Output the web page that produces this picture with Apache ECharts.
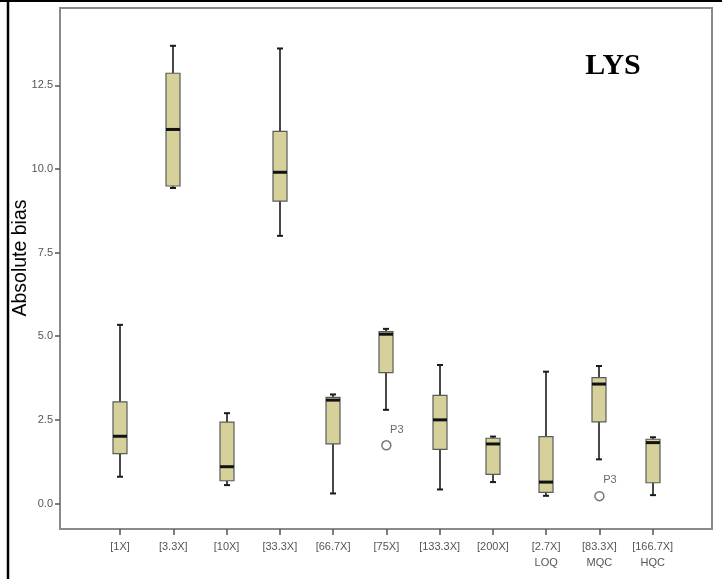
<!DOCTYPE html>
<html>
<head>
<meta charset="utf-8">
<script src="https://cdn.jsdelivr.net/npm/echarts@6/dist/echarts.min.js"></script>
<style>
html,body{margin:0;padding:0;background:#fff;}
#chart{width:726px;height:579px;}
</style>
</head>
<body>
<div id="chart"></div>
<script>
var categories = ['[1X]','[3.3X]','[10X]','[33.3X]','[66.7X]','[75X]','[133.3X]','[200X]','[2.7X]\nLOQ','[83.3X]\nMQC','[166.7X]\nHQC'];
var minV   = [0.80, 9.43, 0.55, 8.00, 0.30, 2.80, 0.42, 0.64, 0.23, 1.32, 0.25];
var q1V    = [1.49, 9.49, 0.68, 9.04, 1.78, 3.91, 1.62, 0.87, 0.33, 2.44, 0.62];
var medV   = [2.01, 11.18, 1.10, 9.90, 3.09, 5.06, 2.50, 1.78, 0.64, 3.57, 1.82];
var q3V    = [3.04, 12.86, 2.43, 11.12, 3.17, 5.14, 3.23, 1.95, 2.00, 3.76, 1.92];
var maxV   = [5.34, 13.68, 2.70, 13.60, 3.26, 5.22, 4.14, 2.00, 3.94, 4.11, 1.98];
var outlierCat = [5, 9];
var outlierVal = [1.74, 0.22];
var outlierLabel = ['P3', 'P3'];
var yTicks = [0, 2.5, 5, 7.5, 10, 12.5];
var yMin = -0.762, yMax = 14.81;

var boxData = categories.map(function(c, i){ return [i, minV[i], q1V[i], medV[i], q3V[i], maxV[i]]; });
var outData = outlierCat.map(function(c, i){ return {value:[c, outlierVal[i]], label:{formatter: outlierLabel[i]}}; });

var chart = echarts.init(document.getElementById('chart'), null, {renderer:'canvas'});
var option = {
  animation: false,
  backgroundColor: '#fff',
  grid: [
    {left:60, right:14, top:8, bottom:50, show:true, borderColor:'#8a8a8a', borderWidth:2, backgroundColor:'transparent'},
    {left:93.4, width:585.9, top:8, bottom:50}
  ],
  xAxis: [
    {gridIndex:0, type:'value', min:0, max:1, show:false},
    {gridIndex:1, type:'category', data:categories, boundaryGap:true, position:'bottom',
     axisLine:{show:false, onZero:false},
     axisTick:{show:true, alignWithLabel:true, length:6, lineStyle:{color:'#555', width:1.5}},
     axisLabel:{color:'#555', fontSize:11, fontFamily:'Liberation Sans', margin:10, lineHeight:16, interval:0}}
  ],
  yAxis: [
    {gridIndex:0, type:'value', min:yMin, max:yMax,
     axisLine:{show:true, lineStyle:{color:'#8a8a8a', width:2}},
     axisTick:{show:true, length:5, lineStyle:{color:'#555', width:1.5}, customValues: yTicks},
     axisLabel:{color:'#555', fontSize:11, fontFamily:'Liberation Sans', margin:7, customValues: yTicks,
       formatter:function(v){ return Number(v).toFixed(1); }},
     splitLine:{show:false}},
    {gridIndex:1, type:'value', min:yMin, max:yMax, show:false, splitLine:{show:false}}
  ],
  series: [
    {
      type:'custom', xAxisIndex:1, yAxisIndex:1,
      data: boxData,
      encode:{x:0, y:[1,2,3,4,5]},
      renderItem:function(params, api){
        var i = api.value(0);
        var pMin = api.coord([i, api.value(1)]);
        var pQ1 = api.coord([i, api.value(2)]);
        var pMed = api.coord([i, api.value(3)]);
        var pQ3 = api.coord([i, api.value(4)]);
        var pMax = api.coord([i, api.value(5)]);
        var x = Math.round(pMed[0]);
        var bw = 14, cw = 6;
        var wl = {stroke:'#1a1a1a', lineWidth:1.6};
        return {type:'group', children:[
          {type:'line', shape:{x1:x, y1:pMax[1], x2:x, y2:pQ3[1]}, style:wl},
          {type:'line', shape:{x1:x, y1:pQ1[1], x2:x, y2:pMin[1]}, style:wl},
          {type:'line', shape:{x1:x-cw/2, y1:pMax[1], x2:x+cw/2, y2:pMax[1]}, style:{stroke:'#1a1a1a', lineWidth:2}},
          {type:'line', shape:{x1:x-cw/2, y1:pMin[1], x2:x+cw/2, y2:pMin[1]}, style:{stroke:'#1a1a1a', lineWidth:2}},
          {type:'rect', shape:{x:x-bw/2, y:pQ3[1], width:bw, height:pQ1[1]-pQ3[1]}, style:{fill:'#d6d19b', stroke:'#5a5a5a', lineWidth:1.2}},
          {type:'line', shape:{x1:x-bw/2, y1:pMed[1], x2:x+bw/2, y2:pMed[1]}, style:{stroke:'#111', lineWidth:3}}
        ]};
      },
      z: 3
    },
    {
      type:'scatter', xAxisIndex:1, yAxisIndex:1,
      data: outData,
      symbol:'circle', symbolSize:9,
      itemStyle:{color:'#fff', borderColor:'#555', borderWidth:1.5},
      label:{show:true, position:[9,-16], color:'#444', fontSize:11, fontFamily:'Liberation Sans'},
      z: 4
    }
  ],
  graphic: [
    {type:'line', shape:{x1:8, y1:0, x2:8, y2:579}, style:{stroke:'#000', lineWidth:2.5}},
    {type:'line', shape:{x1:0, y1:1, x2:722, y2:1}, style:{stroke:'#000', lineWidth:2}},
    {type:'text', x:21, y:258, rotation:Math.PI/2,
     style:{text:'Absolute bias', font:'19.5px "Liberation Sans"', fill:'#000', textAlign:'center', textVerticalAlign:'middle'}},
    {type:'text', x:613, y:66,
     style:{text:'LYS', font:'bold 30px "Liberation Serif"', fill:'#000', textAlign:'center', textVerticalAlign:'middle'}}
  ]
};
chart.setOption(option);
</script>
</body>
</html>
